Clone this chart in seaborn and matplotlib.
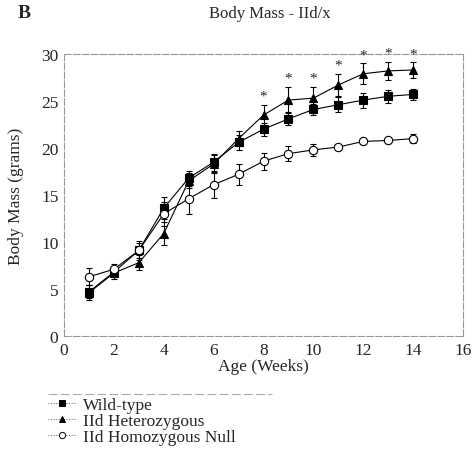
import matplotlib
matplotlib.use("Agg")
import matplotlib.pyplot as plt
from matplotlib.lines import Line2D
import seaborn as sns
import pandas as pd

# Данные
weeks = [1, 2, 3, 4, 5, 6, 7, 8, 9, 10, 11, 12, 13, 14]
wt_mean = [4.7, 6.8, 9.1, 13.6, 16.8, 18.5, 20.6, 22.0, 23.1, 24.1, 24.6, 25.1, 25.5, 25.7]
wt_err = [0.7, 0.5, 0.8, 1.2, 0.8, 0.9, 0.8, 0.7, 0.7, 0.6, 0.8, 0.8, 0.7, 0.6]
het_mean = [4.6, 6.7, 7.8, 10.9, 16.5, 18.3, 21.0, 23.5, 25.1, 25.3, 26.7, 27.9, 28.2, 28.3]
het_err = [0.8, 0.6, 0.8, 1.2, 0.8, 1.0, 0.8, 1.1, 1.4, 1.2, 1.2, 1.1, 1.0, 0.8]
null_mean = [6.3, 7.1, 9.1, 13.0, 14.6, 16.1, 17.2, 18.6, 19.4, 19.8, 20.1, 20.7, 20.8, 21.0]
null_err = [0.9, 0.6, 1.0, 1.3, 1.6, 1.4, 1.1, 0.9, 0.8, 0.6, 0.3, 0.3, 0.3, 0.5]
star_weeks = [8, 9, 10, 11, 12, 13, 14]
labels = ["Wild-type", "IId Heterozygous", "IId Homozygous Null"]

sns.set_style("white")
plt.rcParams['font.family'] = ['Liberation Serif', 'DejaVu Serif']

df = pd.DataFrame({
    "week": weeks * 3,
    "mass": wt_mean + het_mean + null_mean,
    "err": wt_err + het_err + null_err,
    "group": [labels[0]] * 14 + [labels[1]] * 14 + [labels[2]] * 14,
})

fig = plt.figure(figsize=(4.75, 4.52), dpi=100)
ax = fig.add_axes([64 / 475, 1 - 337 / 452, 399 / 475, 282 / 452])

markers = {labels[0]: "s", labels[1]: "^", labels[2]: "o"}
faces = {labels[0]: "black", labels[1]: "black", labels[2]: "white"}

# Сначала усы ошибок, потом линии с маркерами
for g in labels:
    sub = df[df["group"] == g]
    ax.errorbar(sub["week"], sub["mass"], yerr=sub["err"], fmt="none",
                ecolor="black", elinewidth=0.8, capsize=2.5, capthick=0.8, zorder=2)
    sns.lineplot(data=sub, x="week", y="mass", ax=ax, color="black", linewidth=0.8,
                 marker=markers[g], markersize=6, markerfacecolor=faces[g],
                 markeredgecolor="black", markeredgewidth=0.8, legend=False, zorder=3)

# Звёздочки над гетерозиготами
het = df[df["group"] == labels[1]].set_index("week")
for w in star_weeks:
    ax.text(w, het.loc[w, "mass"] + het.loc[w, "err"] + 0.2, "*", ha="center",
            va="bottom", fontsize=11)

ax.set_xlim(0, 16)
ax.set_ylim(0, 30)
ax.set_xticks(range(0, 17, 2))
ax.set_yticks(range(0, 31, 5))
ax.tick_params(labelsize=12.5, length=0, pad=4)
for s in ax.spines.values():
    s.set_color("#999999")
    s.set_linewidth(0.8)
    s.set_linestyle((0, (6, 2)))
ax.set_xlabel("Age (Weeks)", fontsize=12.5, labelpad=0)
ax.set_ylabel("Body Mass (grams)", fontsize=12.5, labelpad=12)

# Легенда внизу слева, маленькие маркеры с пунктиром
handles = [Line2D([], [], color="#555555", linewidth=0.7, linestyle=":",
                  marker=markers[g], markersize=4.5, markerfacecolor=faces[g],
                  markeredgecolor="black", markeredgewidth=0.7) for g in labels]
fig.legend(handles, labels, loc="upper left", bbox_to_anchor=(48 / 475, 1 - 398 / 452),
           frameon=False, fontsize=12.5, handlelength=1.6, handletextpad=0.4,
           labelspacing=0.0, borderaxespad=0, borderpad=0, handleheight=0.5)
fig.add_artist(Line2D([48 / 475, 272 / 475], [1 - 395 / 452, 1 - 395 / 452],
                      color="#aaaaaa", linewidth=0.8, linestyle=(0, (8, 3))))

fig.text(18 / 475, 1 - 14 / 452, "B", fontsize=14, fontweight="bold", va="center")
fig.text(270 / 475, 1 - 14 / 452, "Body Mass - IId/x", fontsize=12, va="center", ha="center")

fig.savefig("out.png", dpi=100)
